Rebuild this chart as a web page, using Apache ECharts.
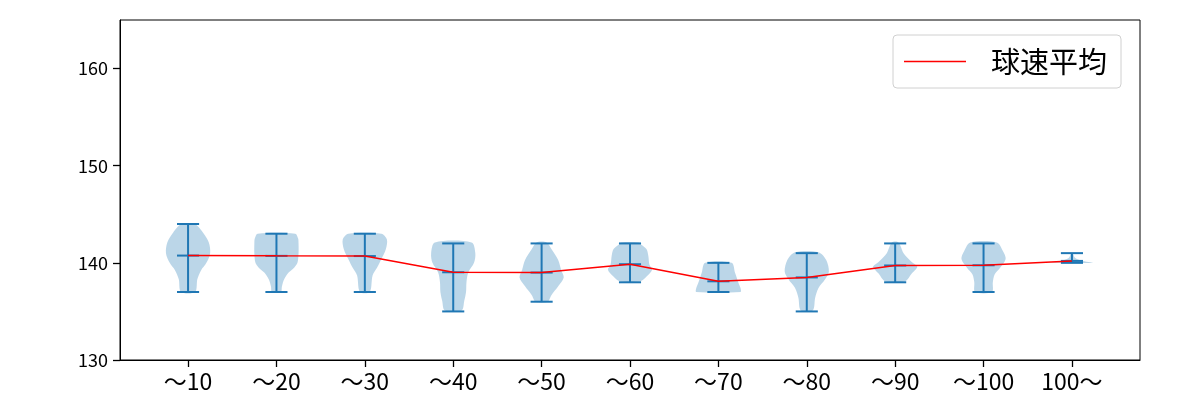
<!DOCTYPE html>
<html>
<head>
<meta charset="utf-8">
<script src="https://cdn.jsdelivr.net/npm/echarts@6/dist/echarts.min.js"></script>
<style>html,body{margin:0;padding:0;background:#fff}#c{width:1200px;height:400px}</style>
</head>
<body>
<div id="c"></div>
<script>
const categories = ['～10','～20','～30','～40','～50','～60','～70','～80','～90','～100','100～'];
const means = [140.75, 140.72, 140.7, 139.03, 139.0, 139.86, 138.1, 138.5, 139.73, 139.75, 140.2];
const mins  = [137, 137, 137, 135, 136, 138, 137, 135, 138, 137, 140];
const maxs  = [144, 143, 143, 142, 142, 142, 140, 141, 142, 142, 141];
// violin outlines: [speed, relative half-width]
const profiles = [
  [[144,0.3],[143.1,0.68],[142.1,0.94],[141,1.0],[140,0.83],[139.2,0.58],[138.3,0.42],[137,0.32]],
  [[143,0.85],[142.5,0.98],[142,1.0],[141,1.0],[140,0.95],[139.5,0.8],[139,0.55],[138.3,0.35],[137.6,0.25],[137,0.2]],
  [[143,0.75],[142.4,1.0],[141.4,0.95],[140.4,0.75],[139.5,0.55],[138.7,0.35],[137,0.22]],
  [[142.1,0.83],[141,1.0],[140,0.94],[139,0.68],[138,0.6],[137,0.58],[136.1,0.5],[135.1,0.38]],
  [[142.1,0.23],[141.4,0.45],[140.3,0.75],[139.3,0.88],[138.5,1.0],[137.6,0.75],[136.7,0.45],[136,0.27]],
  [[142.1,0.4],[141.9,0.5],[141.4,0.75],[140.7,0.83],[139.8,0.88],[139.3,1.0],[138.6,0.75],[138.1,0.45]],
  [[140,0.6],[139,0.75],[138,0.9],[137.4,1.0],[137,1.0]],
  [[141.1,0.53],[140.3,0.88],[139.1,1.0],[138.3,0.83],[137.4,0.53],[136.4,0.38],[135.1,0.27]],
  [[142.1,0.15],[141,0.38],[140.1,0.75],[139.6,1.0],[138.9,0.75],[138.1,0.45]],
  [[142.1,0.6],[141.2,0.88],[140.4,1.0],[139.5,0.75],[138.8,0.5],[138,0.42],[137,0.38]],
  [[141,0.03],[140.5,0.15],[140.2,0.5],[140,1.0]]
];

const HALF = 0.25, CAP = 0.125;
const idx = categories.map((_, i) => i);
const blue = '#1f77b4';
const font = '"Noto Sans CJK JP", "Noto Sans", sans-serif';

const chart = echarts.init(document.getElementById('c'), null, {renderer: 'canvas'});
chart.setOption({
  animation: false,
  grid: {left: 120, right: 60, top: 20, bottom: 40, show: true, borderColor: '#000', borderWidth: 1, backgroundColor: 'transparent'},
  legend: {
    left: 893, top: 35,
    data: [{name: '球速平均', icon: 'rect'}],
    itemWidth: 62, itemHeight: 1.5,
    padding: [12, 14, 12, 11],
    backgroundColor: '#fff', borderColor: '#d0d0d0', borderWidth: 1, borderRadius: 4,
    textStyle: {fontFamily: font, fontSize: 29, color: '#000', padding: [0, 0, 0, 20], lineHeight: 29}
  },
  xAxis: {
    type: 'value', min: -0.77, max: 10.77,
    splitLine: {show: false},
    axisLine: {show: true, onZero: false, lineStyle: {color: '#000', width: 1}},
    axisTick: {show: true, inside: false, length: 7, customValues: idx, lineStyle: {color: '#000', width: 1.3}},
    axisLabel: {customValues: idx, formatter: v => categories[Math.round(v)], fontFamily: font, fontSize: 23, color: '#000', margin: 10}
  },
  yAxis: {
    type: 'value', min: 130, max: 165, interval: 10,
    splitLine: {show: false},
    axisLine: {show: true, onZero: false, lineStyle: {color: '#000', width: 1}},
    axisTick: {show: true, inside: false, length: 7, lineStyle: {color: '#000', width: 1.3}},
    axisLabel: {fontFamily: font, fontSize: 18, color: '#000', margin: 12, showMaxLabel: false}
  },
  series: [
    {
      type: 'custom', name: 'violin', silent: true, z: 1,
      data: idx,
      renderItem: (params, api) => {
        const i = api.value(0);
        const prof = profiles[i];
        const right = prof.map(p => api.coord([i + p[1] * HALF, p[0]]));
        const left = prof.slice().reverse().map(p => api.coord([i - p[1] * HALF, p[0]]));
        return {type: 'polygon', shape: {points: right.concat(left), smooth: 0.3},
          style: {fill: 'rgba(31,119,180,0.3)', stroke: 'none'}};
      },
      encode: {x: 0}
    },
    {
      type: 'custom', name: 'bars', silent: true, z: 2,
      data: idx,
      renderItem: (params, api) => {
        const i = api.value(0);
        const st = {stroke: blue, lineWidth: 2};
        const seg = (x1, y1, x2, y2) => {
          const a = api.coord([x1, y1]), b = api.coord([x2, y2]);
          return {type: 'line', shape: {x1: a[0], y1: a[1], x2: b[0], y2: b[1]}, style: st};
        };
        return {type: 'group', children: [
          seg(i, mins[i], i, maxs[i]),
          seg(i - CAP, mins[i], i + CAP, mins[i]),
          seg(i - CAP, maxs[i], i + CAP, maxs[i]),
          seg(i - CAP, means[i], i + CAP, means[i])
        ]};
      },
      encode: {x: 0}
    },
    {
      type: 'line', name: '球速平均', z: 3,
      data: idx.map(i => [i, means[i]]),
      showSymbol: false, symbol: 'none',
      lineStyle: {color: '#ff0000', width: 1.5},
      itemStyle: {color: '#ff0000'}
    }
  ]
});
</script>
</body>
</html>
